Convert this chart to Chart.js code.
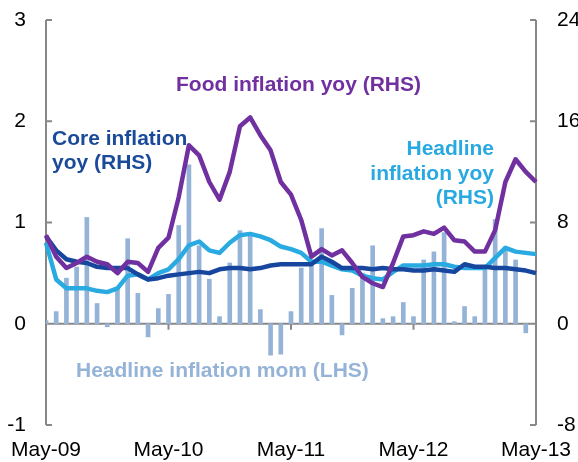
<!DOCTYPE html>
<html>
<head>
<meta charset="utf-8">
<script src="https://cdn.jsdelivr.net/npm/chart.js@4/dist/chart.umd.min.js"></script>
<style>
  html, body { margin: 0; padding: 0; background: #fff; }
  #wrap { width: 578px; height: 462px; }
</style>
</head>
<body>
<div id="wrap"><canvas id="chart" width="578" height="462"></canvas></div>
<script>
// monthly, May-09 .. May-13
var monthNames = ['Jan', 'Feb', 'Mar', 'Apr', 'May', 'Jun', 'Jul', 'Aug', 'Sep', 'Oct', 'Nov', 'Dec'];
var months = [];
for (var k = 0; k < 49; k++) {
    var m = (4 + k) % 12, yr = 9 + Math.floor((4 + k) / 12);
    months.push(monthNames[m] + '-' + (yr < 10 ? '0' + yr : yr));
}

// headline inflation mom, % (LHS)
var headlineMom = [0.03, 0.12, 0.45, 0.56, 1.05, 0.2, -0.03, 0.35, 0.84, 0.3, -0.13, 0.15,
                   0.29, 0.97, 1.57, 0.77, 0.44, 0.07, 0.6, 0.92, 0.88, 0.14, -0.31, -0.3,
                   0.12, 0.55, 0.63, 0.94, 0.28, -0.11, 0.35, 0.5, 0.77, 0.05, 0.07, 0.21,
                   0.07, 0.63, 0.71, 0.9, 0.02, 0.17, 0.07, 0.55, 1.03, 0.76, 0.63, -0.09, null];

// yoy series, % (RHS)
var foodYoy = [7.0, 5.3, 4.4, 4.8, 5.3, 4.9, 4.7, 4.0, 4.9, 4.8, 4.1, 6.0,
               6.8, 10.0, 14.1, 13.3, 11.2, 9.8, 12.0, 15.6, 16.3, 14.9, 13.7, 11.2,
               10.2, 8.2, 5.3, 5.9, 5.4, 5.8, 4.8, 3.7, 3.2, 2.9, 4.8, 6.9,
               7.0, 7.3, 7.1, 7.6, 6.6, 6.5, 5.7, 5.7, 7.4, 11.2, 13.0, 12.0, 11.2];
var coreYoy = [6.9, 5.8, 5.1, 4.9, 4.8, 4.5, 4.4, 4.4, 4.4, 3.9, 3.5, 3.6,
               3.8, 3.9, 4.0, 4.1, 4.0, 4.3, 4.4, 4.4, 4.3, 4.4, 4.6, 4.7,
               4.7, 4.7, 4.7, 5.3, 4.9, 4.4, 4.4, 4.4, 4.3, 4.4, 4.3, 4.3,
               4.2, 4.2, 4.3, 4.2, 4.1, 4.7, 4.5, 4.5, 4.4, 4.4, 4.3, 4.2, 4.0];
var headlineYoy = [6.4, 3.5, 2.8, 2.8, 2.8, 2.6, 2.5, 2.8, 3.8, 3.9, 3.5, 4.0,
                   4.3, 5.1, 6.2, 6.5, 5.8, 5.6, 6.4, 7.0, 7.1, 6.9, 6.6, 6.1,
                   5.9, 5.6, 4.9, 4.9, 4.6, 4.3, 4.2, 3.8, 3.6, 3.5, 4.1, 4.6,
                   4.6, 4.6, 4.7, 4.7, 4.5, 4.4, 4.4, 4.4, 5.2, 6.0, 5.7, 5.6, 5.5];

var leftTicks = [-1, 0, 1, 2, 3];
var rightTicks = [-8, 0, 8, 16, 24];

var FONT = "'Liberation Sans', Arial, sans-serif";

// series labels drawn inside the plot
var notes = [
    { text: 'Food inflation yoy (RHS)', color: '#7030A0', x: 176, y: 91, align: 'left' },
    { text: 'Core inflation', color: '#1B4A9B', x: 52, y: 145, align: 'left' },
    { text: 'yoy (RHS)', color: '#1B4A9B', x: 52, y: 169, align: 'left' },
    { text: 'Headline', color: '#29A9E1', x: 494, y: 155, align: 'right' },
    { text: 'inflation yoy', color: '#29A9E1', x: 494, y: 180, align: 'right' },
    { text: '(RHS)', color: '#29A9E1', x: 494, y: 204, align: 'right' },
    { text: 'Headline inflation mom (LHS)', color: '#95B3D7', x: 76, y: 377, align: 'left' }
];

var axisMarks = {
    id: 'axisMarks',
    beforeDatasetsDraw: function(chart) {
        var ctx = chart.ctx, a = chart.chartArea;
        var xs = chart.scales.x, yl = chart.scales.y, yr = chart.scales.y2;
        var y0 = yl.getPixelForValue(0);
        ctx.save();
        ctx.strokeStyle = '#888888';
        ctx.lineWidth = 2;
        ctx.beginPath();
        ctx.moveTo(a.left, a.top); ctx.lineTo(a.left, a.bottom);
        ctx.moveTo(a.right, a.top); ctx.lineTo(a.right, a.bottom);
        ctx.moveTo(a.left, y0); ctx.lineTo(a.right, y0);
        leftTicks.forEach(function(v) {
            var p = yl.getPixelForValue(v);
            ctx.moveTo(a.left, p); ctx.lineTo(a.left + 6, p);
        });
        rightTicks.forEach(function(v) {
            var p = yr.getPixelForValue(v);
            ctx.moveTo(a.right, p); ctx.lineTo(a.right - 6, p);
        });
        for (var i = 12; i < months.length; i += 12) {
            var px = xs.getPixelForValue(i);
            ctx.moveTo(px, y0 - 6); ctx.lineTo(px, y0 + 6);
        }
        ctx.stroke();
        ctx.restore();
    },
    afterDatasetsDraw: function(chart) {
        var ctx = chart.ctx;
        ctx.save();
        ctx.font = 'bold 21px ' + FONT;
        ctx.textBaseline = 'alphabetic';
        notes.forEach(function(n) {
            ctx.fillStyle = n.color;
            ctx.textAlign = n.align;
            ctx.fillText(n.text, n.x, n.y);
        });
        ctx.restore();
    }
};

var tickFont = { size: 21, family: FONT };

// fixed box sizes so the plot area sits where the original one does
function fitY(width) {
    return function(s) {
        s.width = width;
        s.paddingTop = 0;
        s.paddingBottom = 0;
    };
}

new Chart(document.getElementById('chart').getContext('2d'), {
    data: {
        labels: months,
        datasets: [{
            type: 'line',
            label: 'Food inflation yoy (RHS)',
            data: foodYoy,
            yAxisID: 'y2',
            borderColor: '#7030A0',
            borderWidth: 4.5,
            pointRadius: 0,
            tension: 0,
            borderJoinStyle: 'round',
            order: 0
        }, {
            type: 'line',
            label: 'Core inflation yoy (RHS)',
            data: coreYoy,
            yAxisID: 'y2',
            borderColor: '#17469E',
            borderWidth: 4.5,
            pointRadius: 0,
            tension: 0,
            borderJoinStyle: 'round',
            order: 1
        }, {
            type: 'line',
            label: 'Headline inflation yoy (RHS)',
            data: headlineYoy,
            yAxisID: 'y2',
            borderColor: '#29ABE2',
            borderWidth: 4.5,
            pointRadius: 0,
            tension: 0,
            borderJoinStyle: 'round',
            order: 2
        }, {
            type: 'bar',
            label: 'Headline inflation mom (LHS)',
            data: headlineMom,
            yAxisID: 'y',
            backgroundColor: '#95B3D7',
            barThickness: 4,
            order: 3
        }]
    },
    options: {
        responsive: false,
        animation: false,
        layout: { padding: { top: 20, left: 0, right: 0, bottom: 0 } },
        plugins: {
            legend: { display: false },
            tooltip: { enabled: false }
        },
        scales: {
            x: {
                type: 'category',
                offset: false,
                grid: { display: false, drawTicks: false },
                border: { display: false },
                ticks: {
                    autoSkip: false,
                    maxRotation: 0,
                    padding: 13,
                    color: '#000',
                    font: tickFont,
                    callback: function(v, i) {
                        return i % 12 === 0 ? this.getLabelForValue(v) : '';
                    }
                },
                afterFit: function(s) {
                    s.height = 37;
                    s.paddingLeft = 0;
                    s.paddingRight = 0;
                }
            },
            y: {
                position: 'left',
                min: -1,
                max: 3,
                grid: { display: false, drawTicks: false },
                border: { display: false },
                ticks: { stepSize: 1, padding: 20, color: '#000', font: tickFont },
                afterFit: fitY(46)
            },
            y2: {
                position: 'right',
                min: -8,
                max: 24,
                grid: { display: false, drawTicks: false },
                border: { display: false },
                ticks: { stepSize: 8, padding: 21, color: '#000', font: tickFont },
                afterFit: fitY(42)
            }
        }
    },
    plugins: [axisMarks]
});
</script>
</body>
</html>
